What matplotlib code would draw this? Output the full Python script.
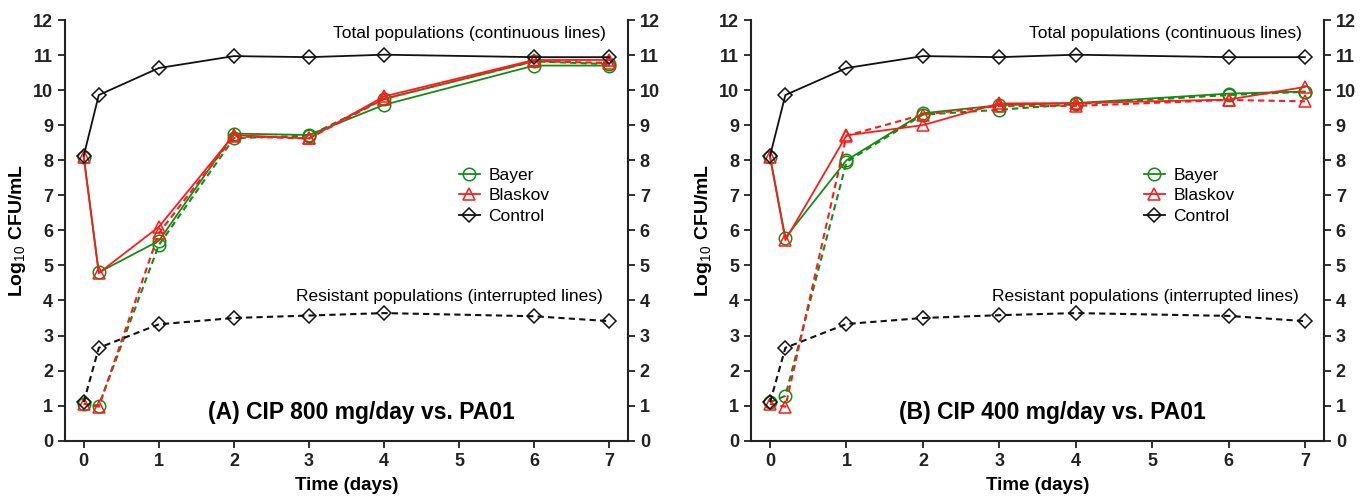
import matplotlib
matplotlib.use("Agg")
import matplotlib.pyplot as plt

plt.rcParams['font.family'] = ['Liberation Sans', 'DejaVu Sans']
plt.rcParams['mathtext.fontset'] = 'custom'
plt.rcParams['mathtext.rm'] = 'Liberation Sans'
plt.rcParams['mathtext.bf'] = 'Liberation Sans:bold'

time = [0, 0.2, 1, 2, 3, 4, 6, 7]
xticks = [0, 1, 2, 3, 4, 5, 6, 7]
yticks = list(range(0, 13))

# Panel A: CIP 800 mg/day
A_bayer_total = [8.10, 4.80, 5.70, 8.76, 8.72, 9.58, 10.70, 10.70]
A_blaskov_total = [8.08, 4.78, 6.10, 8.72, 8.62, 9.82, 10.86, 10.86]
A_control_total = [8.13, 9.86, 10.63, 10.97, 10.94, 11.01, 10.94, 10.94]
A_bayer_res = [1.05, 1.00, 5.58, 8.63, 8.70, 9.75, 10.82, 10.74]
A_blaskov_res = [1.05, 0.97, 5.92, 8.68, 8.62, 9.75, 10.83, 10.77]
A_control_res = [1.10, 2.65, 3.32, 3.50, 3.57, 3.64, 3.55, 3.41]

# Panel B: CIP 400 mg/day
B_bayer_total = [8.10, 5.79, 8.00, 9.34, 9.57, 9.63, 9.90, 9.96]
B_blaskov_total = [8.08, 5.72, 8.71, 9.00, 9.62, 9.63, 9.73, 10.09]
B_control_total = [8.13, 9.86, 10.63, 10.97, 10.94, 11.01, 10.94, 10.94]
B_bayer_res = [1.10, 1.28, 7.95, 9.30, 9.44, 9.60, 9.86, 9.95]
B_blaskov_res = [1.05, 0.97, 8.70, 9.30, 9.55, 9.55, 9.72, 9.68]
B_control_res = [1.10, 2.65, 3.33, 3.50, 3.58, 3.64, 3.56, 3.41]

labels = ["Bayer", "Blaskov", "Control"]
panel_titles = ["(A) CIP 800 mg/day vs. PA01", "(B) CIP 400 mg/day vs. PA01"]

GREEN = '#138c13'
RED = '#ff1a1a'
BLACK = '#111111'

fig = plt.figure(figsize=(13.66, 4.98), dpi=100)
axA = fig.add_axes([65/1366, 57.3/498, 563/1366, 420.7/498])
axB = fig.add_axes([751/1366, 57.3/498, 573/1366, 420.7/498])

panels = [
    (axA, A_bayer_total, A_blaskov_total, A_control_total, A_bayer_res, A_blaskov_res, A_control_res, panel_titles[0], 466),
    (axB, B_bayer_total, B_blaskov_total, B_control_total, B_bayer_res, B_blaskov_res, B_control_res, panel_titles[1], 1151),
]

ms = 9
lw = 1.3
for ax, bt, blt, ct, br, blr, cr, title, legx in panels:
    specs = [(bt, br, GREEN, 'o', labels[0]), (blt, blr, RED, '^', labels[1]), (ct, cr, BLACK, 'D', labels[2])]
    handles = []
    for tot, res, col, mk, lab in specs:
        msz = ms - 1.5 if mk == 'D' else ms
        h, = ax.plot(time, tot, color=col, lw=lw, marker=mk, ms=msz, mfc='none', mec=col, mew=1.1, label=lab)
        ax.plot(time, res, color=col, lw=lw + 0.2, ls=(0, (3, 2)), marker=mk, ms=msz, mfc='none', mec=col, mew=1.1)
        handles.append(h)
    ax.set_xlim(-0.25, 7.25)
    ax.set_ylim(0, 12)
    ax.set_xticks(xticks)
    ax.set_yticks(yticks)
    ax.spines['top'].set_visible(False)
    for s in ['left', 'right', 'bottom']:
        ax.spines[s].set_linewidth(1.5)
        ax.spines[s].set_color('#222222')
    ax.tick_params(axis='both', which='both', direction='out', length=5, width=1.3,
                   labelsize=13, colors='#222222')
    ax.tick_params(axis='y', right=True, labelright=True)
    for t in ax.get_xticklabels() + ax.get_yticklabels():
        t.set_fontweight('bold')
    ax.tick_params(axis='x', pad=4)
    ax.set_xlabel("Time (days)", fontsize=13.5, fontweight='bold', labelpad=5)
    ax.set_ylabel("Log$_{\\mathrm{10}}$ CFU/mL", fontsize=14, fontweight='bold', labelpad=4)
    ax.text(6.96, 11.62, "Total populations (continuous lines)", ha='right', va='center', fontsize=12.5)
    ax.text(6.92, 4.1, "Resistant populations (interrupted lines)", ha='right', va='center', fontsize=12.5)
    ax.text(3.7, 0.8, title, ha='center', va='center', fontsize=16.5, fontweight='bold')
    leg = ax.legend(handles=handles, loc='upper left', bbox_to_anchor=((legx - 14 - ax.get_position().x0 * 1366) / (ax.get_position().width * 1366), 0.665),
                    frameon=False, fontsize=12.5, handlelength=1.2, handletextpad=0.5, labelspacing=0.3,
                    borderaxespad=0)

fig.savefig("out.png", dpi=100)
